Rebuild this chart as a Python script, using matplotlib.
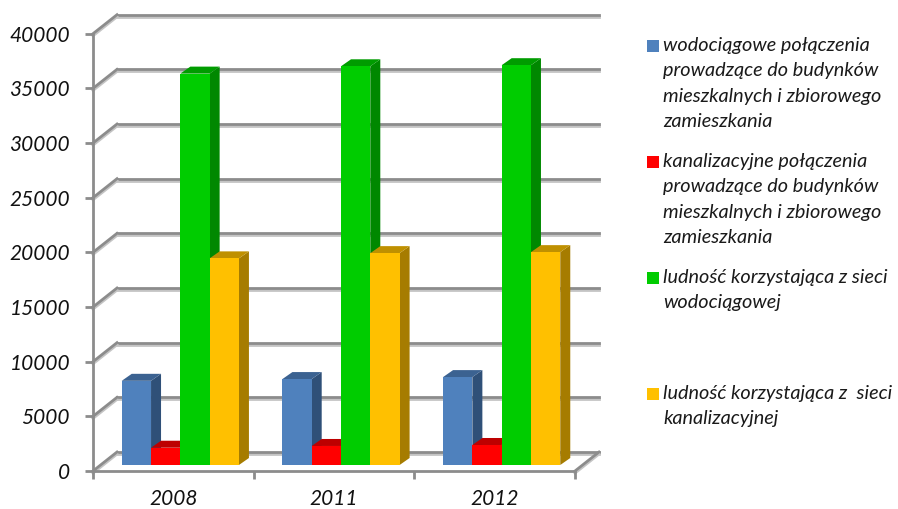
import numpy as np
import matplotlib
matplotlib.use('Agg')
import matplotlib.pyplot as plt
import matplotlib.patheffects as pe
from matplotlib.patches import Rectangle

plt.rcParams['font.family'] = ['Lato', 'DejaVu Sans']

years = ['2008', '2011', '2012']
polaczenia_wod = [7700, 7860, 8040]
polaczenia_kan = [1580, 1740, 1830]
ludnosc_wod = [35800, 36470, 36570]
ludnosc_kan = [18900, 19380, 19470]
yticks = [0, 5000, 10000, 15000, 20000, 25000, 30000, 35000, 40000]

labels = [
    'wodociągowe połączenia\nprowadzące do budynków\nmieszkalnych i zbiorowego\nzamieszkania',
    'kanalizacyjne połączenia\nprowadzące do budynków\nmieszkalnych i zbiorowego\nzamieszkania',
    'ludność korzystająca z sieci\nwodociągowej',
    'ludność korzystająca z  sieci\nkanalizacyjnej',
]
series = [polaczenia_wod, polaczenia_kan, ludnosc_wod, ludnosc_kan]
front = ['#4F81BD', '#FF0000', '#00CC00', '#FFC000']
side = ['#2F5078', '#9C0000', '#008800', '#A67C00']
top = ['#3B6291', '#BD0000', '#009C00', '#BF9000']

W, H = 898, 509
fig = plt.figure(figsize=(W / 100, H / 100), dpi=100)
# the front plane of the fake 3d box
ax = fig.add_axes([93 / W, 1 - 471 / H, 482 / W, 437.3 / H])
ax.set_xlim(0, 3)
ax.set_ylim(0, 40000)
ax.patch.set_visible(False)

# pixels to data units, for the depth offsets
px = 3 / 482
py = 40000 / 437.3

grid = '#8C8C8C'
shadow = [pe.SimpleLineShadow(offset=(0, -1.5), shadow_color='#C4C4C4', alpha=1), pe.Normal()]
wall_x, wall_y = 24 * px, 19 * py
for t in yticks:
    ax.plot([wall_x, 3 + wall_x], [t + wall_y, t + wall_y], color=grid, lw=2, clip_on=False,
            path_effects=shadow, zorder=1)
    ax.plot([0, wall_x], [t, t + wall_y], color=grid, lw=2, clip_on=False,
            path_effects=shadow, zorder=1)
ax.plot([3, 3 + wall_x], [0, wall_y], color=grid, lw=2, clip_on=False, path_effects=shadow, zorder=1)

# bars, left to right so that each one covers the side of the previous
bar_w = 29.3 * px
base = 6 * py
shift = 7 * px
dx, dy = 10 * px, 7 * py
z = 3
for g in range(len(years)):
    left = g + 0.5 + shift - 2 * bar_w
    for i, vals in enumerate(series):
        x0 = left + i * bar_w
        x1 = x0 + bar_w
        y1 = base + vals[g]
        ax.fill([x1, x1 + dx, x1 + dx, x1], [base, base + dy, y1 + dy, y1], color=side[i], lw=0, clip_on=False, zorder=z)
        ax.fill([x0, x1, x1 + dx, x0 + dx], [y1, y1, y1 + dy, y1 + dy], color=top[i], lw=0, clip_on=False, zorder=z)
        ax.bar(x0, vals[g], bar_w, bottom=base, align='edge', color=front[i], lw=0, clip_on=False, zorder=z + 1)
        z += 2

for s in ['top', 'right']:
    ax.spines[s].set_visible(False)
for s in ['left', 'bottom']:
    ax.spines[s].set_color(grid)
    ax.spines[s].set_linewidth(2)
    ax.spines[s].set_zorder(2)

ax.set_yticks(yticks)
ax.set_yticklabels([str(t) for t in yticks], fontsize=15, style='italic', color='#111111')
ax.tick_params(axis='y', length=5.5, width=2, color=grid, pad=11)
ax.set_xticks([0, 1, 2, 3])
ax.set_xticklabels([])
ax.tick_params(axis='x', which='major', length=5.5, width=2, color=grid)
ax.set_xticks([0.5, 1.5, 2.5], minor=True)
ax.set_xticklabels(years, minor=True, fontsize=15, style='italic', color='#111111')
ax.tick_params(axis='x', which='minor', length=0, pad=13.3)

# legend placed by hand, the entries have an uneven gap in the original
for i, lab in enumerate(labels):
    y_px = 46 + i * 116
    fig.patches.append(Rectangle((647 / W, 1 - (y_px + 6) / H), 12 / W, 12 / H,
                                 transform=fig.transFigure, color=front[i], lw=0))
    fig.text(663 / W, 1 - (y_px - 9) / H, lab, fontsize=14.3, style='italic', color='#1a1a1a',
             va='top', ha='left', linespacing=1.6)

fig.savefig('out.png', dpi=100)
